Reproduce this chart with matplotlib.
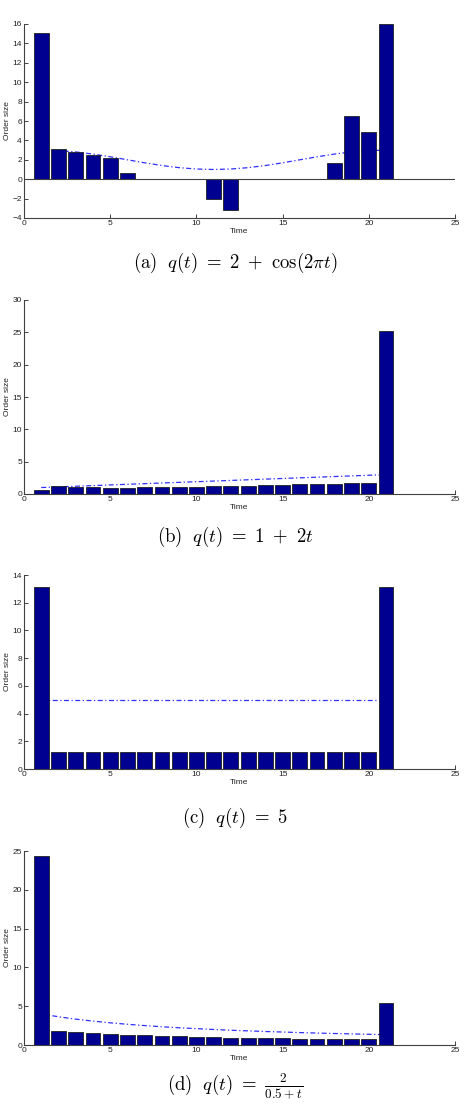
import numpy as np
import matplotlib
matplotlib.use('Agg')
import matplotlib.pyplot as plt

plt.rcParams['mathtext.fontset'] = 'cm'
plt.rcParams['font.family'] = ['Liberation Sans', 'DejaVu Sans']

time = list(range(1, 22))

## bar heights (order size) for each scenario
order_a = [15.1, 3.1, 2.8, 2.5, 2.2, 0.6, 0, 0, 0, 0, -2.0, -3.2,
           0, 0, 0, 0, 0, 1.7, 6.5, 4.9, 16.0]
order_b = [0.6, 1.2, 1.15, 1.05, 1.0, 1.0, 1.05, 1.05, 1.1, 1.15, 1.2,
           1.25, 1.3, 1.35, 1.4, 1.5, 1.55, 1.6, 1.65, 1.75, 25.2]
order_c = [13.1] + [1.25] * 19 + [13.1]
order_d = [24.4, 1.8, 1.65, 1.55, 1.45, 1.35, 1.25, 1.15, 1.1, 1.05, 1.0,
           0.95, 0.92, 0.88, 0.85, 0.82, 0.8, 0.78, 0.75, 0.72, 5.4]

## dash-dot curve q(t) read at each time step
q_a = [3.0, 2.95, 2.81, 2.59, 2.31, 2.0, 1.69, 1.41, 1.19, 1.05, 1.0,
       1.05, 1.19, 1.41, 1.69, 2.0, 2.31, 2.59, 2.81, 2.95, 3.0]
q_b = [1.0, 1.1, 1.2, 1.3, 1.4, 1.5, 1.6, 1.7, 1.8, 1.9, 2.0,
       2.1, 2.2, 2.3, 2.4, 2.5, 2.6, 2.7, 2.8, 2.9, 3.0]
q_c = [5.0] * 21
q_d = [4.0, 3.64, 3.33, 3.08, 2.86, 2.67, 2.5, 2.35, 2.22, 2.11, 2.0,
       1.9, 1.82, 1.74, 1.67, 1.6, 1.54, 1.48, 1.43, 1.38, 1.33]

captions = [r'$\mathrm{(a)}\ \ q(t)\ =\ 2\ +\ \cos(2\pi t)$',
            r'$\mathrm{(b)}\ \ q(t)\ =\ 1\ +\ 2t$',
            r'$\mathrm{(c)}\ \ q(t)\ =\ 5$',
            r'$\mathrm{(d)}\ \ q(t)\ =\ \frac{2}{0.5+t}$']
ylims = [(-4, 16), (0, 30), (0, 14), (0, 25)]
ysteps = [2, 5, 2, 5]
xticks = [0, 5, 10, 15, 20, 25]

W, H = 471, 1104
tops = [24, 300, 575, 851]     # pixel rows of the axes tops
ax_h = 194
caption_y = [263, 537, 818, 1086]

fig = plt.figure(figsize=(W / 100, H / 100), dpi=100)

orders = [order_a, order_b, order_c, order_d]
curves = [q_a, q_b, q_c, q_d]
axis_col = '#404040'

for i in range(4):
    bottom = tops[i] + ax_h
    ax = fig.add_axes([24 / W, 1 - bottom / H, 431 / W, ax_h / H])
    ax.plot(time, curves[i], color='#3030ff', lw=0.9,
            linestyle=(0, (4, 2, 1, 2)), zorder=1)
    ax.bar(time, orders[i], width=0.86, color='#000090',
           edgecolor='#202020', linewidth=0.6, zorder=2)
    if ylims[i][0] < 0:
        ax.axhline(0, color=axis_col, lw=0.8, zorder=3)
    ax.set_xlim(0, 25)
    ax.set_ylim(*ylims[i])
    ax.set_xticks(xticks)
    ax.set_yticks(np.arange(ylims[i][0], ylims[i][1] + 0.1, ysteps[i]))
    for s in ['top', 'right']:
        ax.spines[s].set_visible(False)
    for s in ['left', 'bottom']:
        ax.spines[s].set_color(axis_col)
        ax.spines[s].set_linewidth(0.8)
    ax.tick_params(direction='in', length=3, width=0.7, colors=axis_col,
                   labelsize=6, pad=1.5, labelcolor='#222222')
    ax.set_xlabel('Time', fontsize=6, labelpad=1, color='#222222')
    ax.set_ylabel('Order size', fontsize=6, labelpad=1, color='#222222')
    fig.text(0.5, 1 - caption_y[i] / H, captions[i], ha='center',
             va='center', fontsize=13.5)

fig.savefig('out.png', dpi=100)
